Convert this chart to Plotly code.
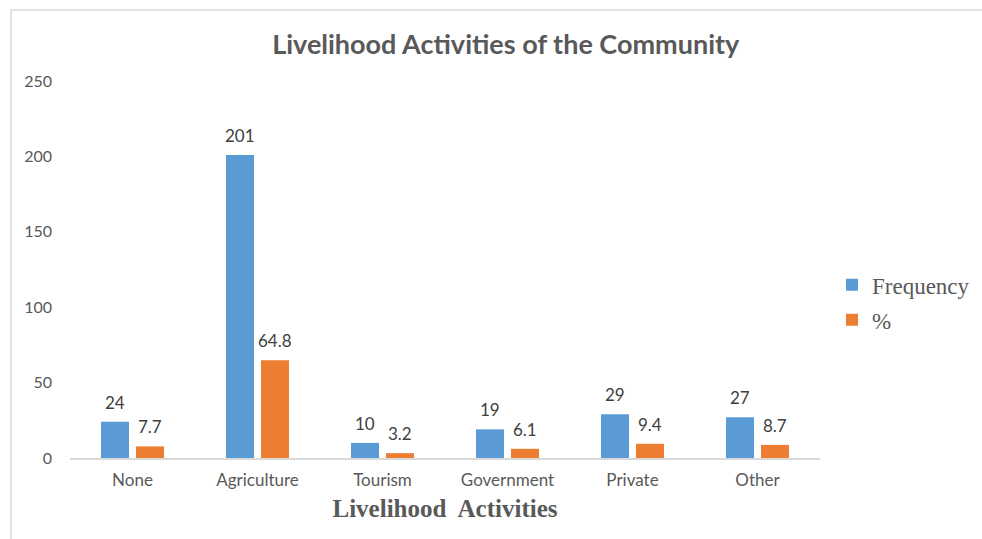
import plotly.graph_objects as go

categories = ["None", "Agriculture", "Tourism", "Government", "Private", "Other"]
frequency = [24, 201, 10, 19, 29, 27]
percent = [7.7, 64.8, 3.2, 6.1, 9.4, 8.7]
y_ticks = [0, 50, 100, 150, 200, 250]

BLUE = "#5B9BD5"
ORANGE = "#ED7D31"
GREY = "#595959"

fig = go.Figure()
fig.add_trace(go.Bar(name="Frequency", x=categories, y=frequency, marker_color=BLUE,
                     marker_line_width=0, legendgroup="f"))
fig.add_trace(go.Bar(name="%", x=categories, y=percent, marker_color=ORANGE,
                     marker_line_width=0, legendgroup="p"))

# value labels above each bar
annotations = []
for vals, shift in ((frequency, -17.5), (percent, 17.5)):
    for c, v in zip(categories, vals):
        annotations.append(dict(x=c, y=v, xref="x", yref="y", text=f"{v:g}",
                                showarrow=False, xshift=shift, yanchor="bottom", yshift=7,
                                font=dict(family="Lato", size=17, color="#404040")))

fig.update_layout(
    width=982, height=539,
    margin=dict(l=70, r=162, t=81, b=81, autoexpand=False),
    paper_bgcolor="white", plot_bgcolor="white",
    barmode="group", bargap=0.44, bargroupgap=0.2,
    title=dict(text="<b>Livelihood Activities of the Community</b>", x=0.515, xanchor="center",
               y=0.918, yanchor="middle",
               font=dict(family="Lato", size=27, color=GREY)),
    xaxis=dict(showline=True, linecolor="#D9D9D9", linewidth=1.5, ticks="",
               ticklabelstandoff=6,
               tickfont=dict(family="Lato", size=17, color=GREY),
               title=dict(text="<b>Livelihood  Activities</b>", standoff=10,
                          font=dict(family="Liberation Serif", size=25, color=GREY))),
    yaxis=dict(range=[0, 250], tickvals=y_ticks, showgrid=False, zeroline=False,
               showline=False, ticks="", ticklabelstandoff=17,
               tickfont=dict(family="Lato", size=16, color=GREY)),
    legend=dict(x=1.016, y=0.413, xanchor="left", yanchor="middle",
                font=dict(family="Liberation Serif", size=23, color=GREY),
                itemwidth=30, tracegroupgap=2),
    annotations=annotations,
    shapes=[dict(type="rect", xref="paper", yref="paper",
                 x0=-0.0787, x1=1.3, y0=-0.3, y1=1.188,
                 line=dict(color="#D9D9D9", width=1.5), layer="below")],
)

fig.write_html("out.html")
